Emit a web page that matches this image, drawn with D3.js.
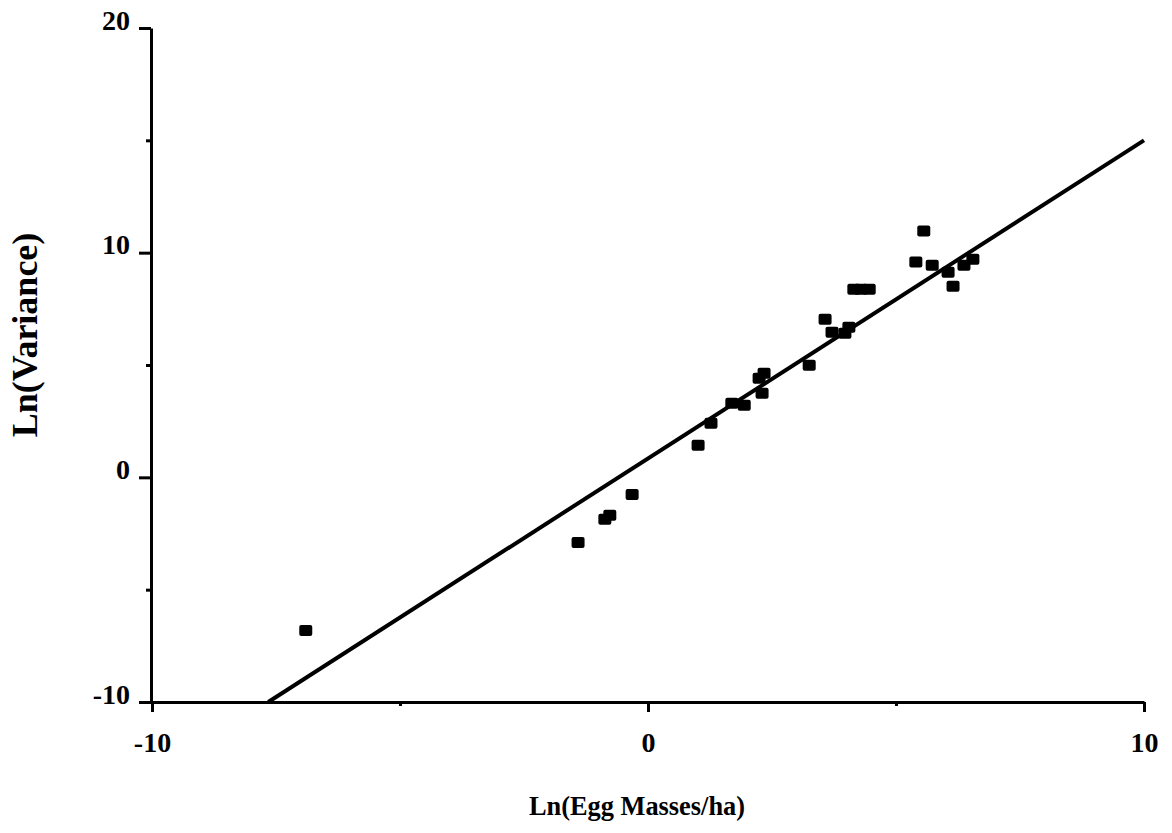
<!DOCTYPE html>
<html>
<head>
<meta charset="utf-8">
<script src="https://cdn.jsdelivr.net/npm/d3@7"></script>
<style>
  body { margin: 0; background: #fff; }
  svg { display: block; }
  text { font-family: "Liberation Serif", "Times New Roman", serif; font-weight: bold; fill: #000; }
</style>
</head>
<body>
<svg width="1172" height="833"></svg>
<script>
// data
const lnEggMasses = [-6.90, -1.41, -0.87, -0.77, -0.32, 1.01, 1.27, 1.69, 1.94, 2.30, 2.24, 2.34, 3.25,
    3.57, 3.71, 3.97, 4.05, 4.15, 4.29, 4.46, 5.40, 5.56, 5.73, 6.05, 6.15, 6.37, 6.55];
const lnVariance = [-6.82, -2.90, -1.87, -1.69, -0.76, 1.43, 2.41, 3.30, 3.21, 3.74, 4.41, 4.63, 4.99,
    7.04, 6.46, 6.41, 6.68, 8.37, 8.37, 8.37, 9.58, 10.96, 9.44, 9.13, 8.51, 9.44, 9.71];
const fitIntercept = 0.84;
const fitSlope = 1.416;
const xTicks = [-10, -5, 0, 5, 10];
const xTickLabels = ["-10", "", "0", "", "10"];
const yTicks = [-10, -5, 0, 5, 10, 15, 20];
const yTickLabels = ["-10", "", "0", "", "10", "", "20"];

const svg = d3.select("svg");

const x = d3.scaleLinear().domain([-10, 10]).range([152, 1144]);
const y = d3.scaleLinear().domain([-10, 20]).range([702, 28]);

// x axis
const xAxis = svg.append("g")
    .attr("transform", `translate(0, ${y(-10)})`)
    .call(d3.axisBottom(x)
        .tickValues(xTicks)
        .tickSizeOuter(0)
        .tickFormat((d, i) => xTickLabels[i]));
xAxis.select(".domain").attr("stroke-width", 3);
xAxis.selectAll(".tick line")
    .attr("stroke-width", 3)
    .attr("y2", (d, i) => xTickLabels[i] ? 10 : 4);
xAxis.selectAll(".tick text")
    .attr("y", 50)
    .attr("dy", 0)
    .style("font-size", "28px");

// y axis
const yAxis = svg.append("g")
    .attr("transform", `translate(${x(-10) - 1}, 0)`)
    .call(d3.axisLeft(y)
        .tickValues(yTicks)
        .tickSizeOuter(0)
        .tickFormat((d, i) => yTickLabels[i]));
yAxis.select(".domain").attr("stroke-width", 3);
yAxis.selectAll(".tick line")
    .attr("stroke-width", 3)
    .attr("x2", (d, i) => yTickLabels[i] ? -12 : -5);
yAxis.selectAll(".tick text")
    .attr("x", -21)
    .attr("dy", 1)
    .style("dominant-baseline", "auto")
    .style("font-size", "28px");

// regression line
const xStart = (-10 - fitIntercept) / fitSlope;
svg.append("line")
    .attr("x1", x(xStart))
    .attr("y1", y(fitIntercept + fitSlope * xStart))
    .attr("x2", x(10))
    .attr("y2", y(fitIntercept + fitSlope * 10))
    .attr("stroke", "#000")
    .attr("stroke-width", 4);

// points
svg.selectAll(".pt")
    .data(lnEggMasses.map((d, i) => [d, lnVariance[i]]))
    .enter()
    .append("rect")
    .attr("class", "pt")
    .attr("x", d => x(d[0]) - 6.5)
    .attr("y", d => y(d[1]) - 5.5)
    .attr("width", 13)
    .attr("height", 11)
    .attr("rx", 2)
    .attr("fill", "#000");

// axis titles
svg.append("text")
    .attr("x", 637)
    .attr("y", 815)
    .attr("text-anchor", "middle")
    .style("font-size", "28px")
    .attr("textLength", 216)
    .attr("lengthAdjust", "spacingAndGlyphs")
    .text("Ln(Egg Masses/ha)");

svg.append("text")
    .attr("transform", "translate(37, 335) rotate(-90)")
    .attr("text-anchor", "middle")
    .style("font-size", "36px")
    .text("Ln(Variance)");
</script>
</body>
</html>
